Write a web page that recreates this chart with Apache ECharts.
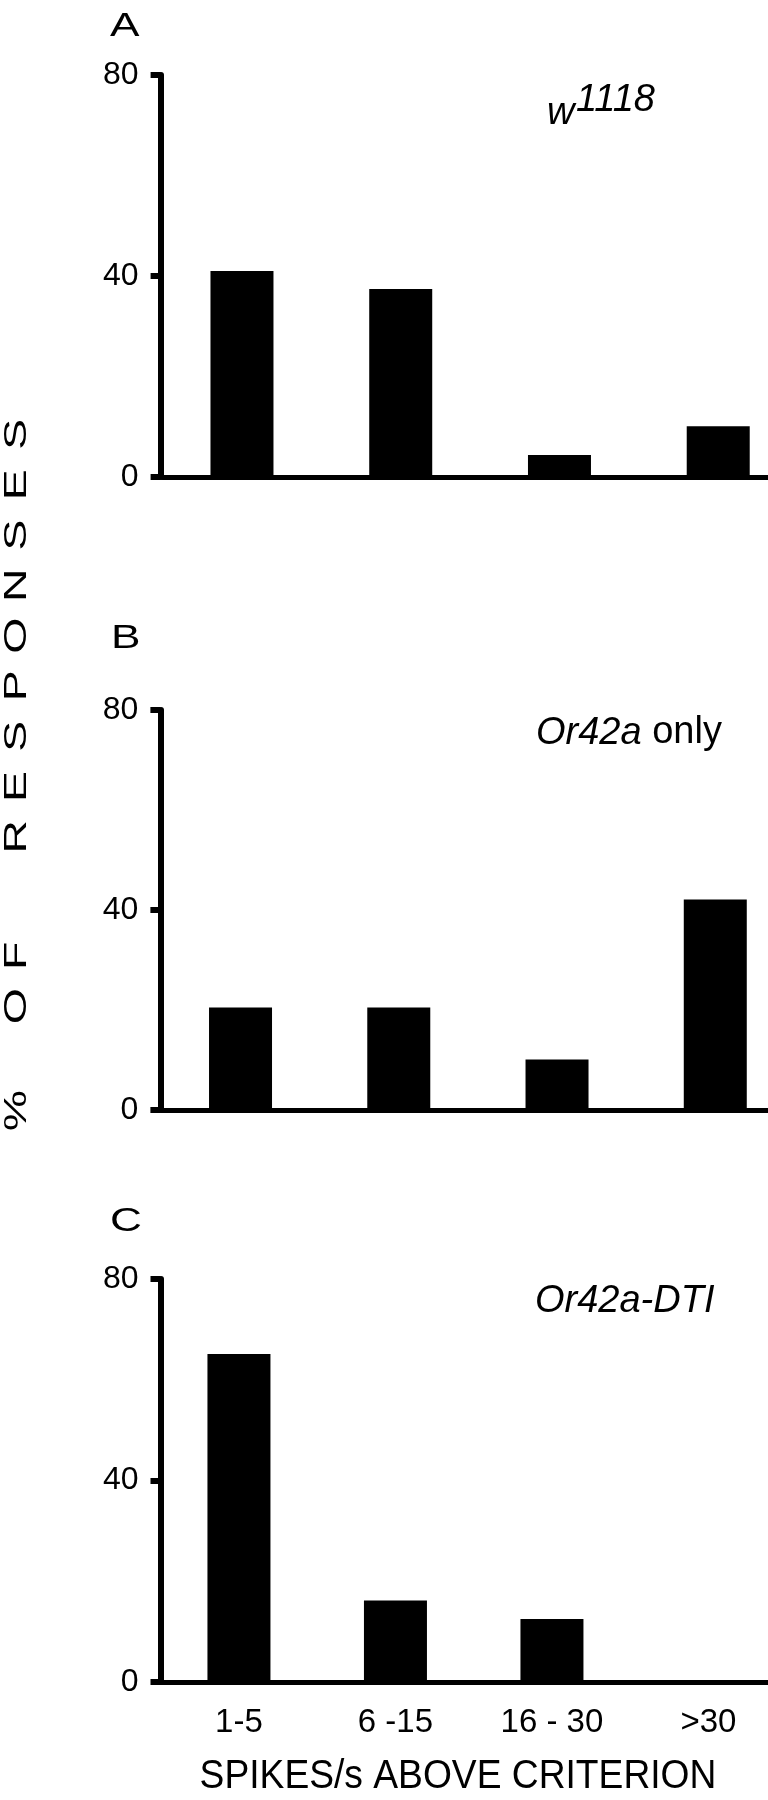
<!DOCTYPE html>
<html><head><meta charset="utf-8">
<script src="https://cdn.jsdelivr.net/npm/echarts@6/dist/echarts.min.js"></script>
<style>html,body{margin:0;padding:0;background:#fff}#c{width:768px;height:1800px}</style>
</head><body><div id="c"></div>
<script>
// ---- data ----
const categories = ['1-5', '6 -15', '16 - 30', '>30'];
const valuesA = [41, 37.4, 4.4, 10.1];
const valuesB = [20.5, 20.5, 10.1, 42.1];
const valuesC = [65.1, 16.2, 12.5, 0];
const yMin = 0, yMax = 80, yStep = 40;
const panelLetters = ['A', 'B', 'C'];
const genotypeA = ['w', '1118'];
const genotypeB = ['Or42a', ' only'];
const genotypeC = 'Or42a-DTI';
const yTitleWords = ['%', 'OF', 'RESPONSES'];
const xTitle = 'SPIKES/s ABOVE CRITERION';

// ---- layout ----
const FONT = '"Liberation Sans", Arial, Helvetica, sans-serif';
const grids = [
  { left: 162.6, top: 75, width: 635, height: 402, axisOffset: 2 },
  { left: 161.4, top: 710, width: 633, height: 400, axisOffset: 1 },
  { left: 160.7, top: 1279, width: 626, height: 403, axisOffset: 0.2 }
];
const seriesData = [valuesA, valuesB, valuesC];

const xAxes = grids.map((g, i) => ({
  type: 'category', gridIndex: i, data: categories,
  boundaryGap: true,
  axisLine: { show: true, lineStyle: { color: '#000', width: 5 } },
  axisTick: { show: false },
  axisLabel: { show: i === 2, color: '#000', fontSize: 33, fontFamily: FONT, margin: 24 },
  splitLine: { show: false }
}));
const yAxes = grids.map((g, i) => ({
  type: 'value', gridIndex: i, min: yMin, max: yMax, interval: yStep,
  offset: g.axisOffset,
  axisLine: { show: true, lineStyle: { color: '#000', width: 6 } },
  axisTick: { show: true, length: 10, lineStyle: { color: '#000', width: 6 } },
  axisLabel: { color: '#000', fontSize: 32, fontFamily: FONT, margin: 22 },
  splitLine: { show: false }
}));
const series = seriesData.map((d, i) => ({
  type: 'bar', xAxisIndex: i, yAxisIndex: i, data: d,
  barWidth: 63, itemStyle: { color: '#000' }, silent: true
}));

const txt = (x, y, text, size, opts) => Object.assign({
  type: 'text', x: x, y: y, silent: true,
  style: { text: text, fill: '#000', font: ((opts && opts.italic) ? 'italic ' : '') + size + 'px ' + FONT,
    align: (opts && opts.align) || 'left', verticalAlign: 'middle' }
}, (opts && opts.el) || {});

// y-axis title: letters spaced along the axis
const yTitleChildren = [];
(function () {
  const pitch = 50.3, wordPitch = [104.5, 119];
  let pos = 0, first = true, wi = 0;
  const centers = [];
  yTitleWords.forEach((w, k) => {
    w.split('').forEach((ch, j) => {
      if (!first) pos += (j === 0) ? wordPitch[k - 1] : pitch;
      first = false;
      centers.push([ch, pos]);
    });
  });
  const half = pos / 2;
  centers.forEach(([ch, p]) => {
    yTitleChildren.push({
      type: 'text', x: p - half, y: 0, scaleX: 1.45, silent: true,
      style: { text: ch, fill: '#000', font: '32px ' + FONT, align: 'center', verticalAlign: 'middle' }
    });
  });
})();

const graphic = [
  txt(110, 26.7, panelLetters[0], 34, { el: { scaleX: 1.3 } }),
  txt(111, 639, panelLetters[1], 34, { el: { scaleX: 1.3 } }),
  txt(110, 1222, panelLetters[2], 34, { el: { scaleX: 1.3 } }),
  txt(547, 113, genotypeA[0], 38, { italic: true }),
  txt(576, 100, genotypeA[1], 38, { italic: true }),
  {
    type: 'text', x: 536, y: 733, silent: true,
    style: {
      text: '{i|' + genotypeB[0] + '}{n|' + genotypeB[1] + '}',
      verticalAlign: 'middle',
      rich: {
        i: { fontSize: 38, fontStyle: 'italic', fontFamily: FONT, fill: '#000' },
        n: { fontSize: 38, fontFamily: FONT, fill: '#000' }
      }
    }
  },
  txt(535, 1301, genotypeC, 38, { italic: true }),
  { type: 'group', x: 17.6, y: 772.5, rotation: Math.PI / 2, children: yTitleChildren, silent: true },
  txt(458, 1777, xTitle, 40, { align: 'center', el: { scaleX: 0.93 } })
];

const chart = echarts.init(document.getElementById('c'), null, { renderer: 'canvas' });
chart.setOption({
  animation: false,
  backgroundColor: '#fff',
  grid: grids.map(g => ({ left: g.left, top: g.top, width: g.width, height: g.height,
    containLabel: false, outerBoundsMode: 'none' })),
  xAxis: xAxes,
  yAxis: yAxes,
  series: series,
  graphic: graphic
});
</script>
</body></html>
